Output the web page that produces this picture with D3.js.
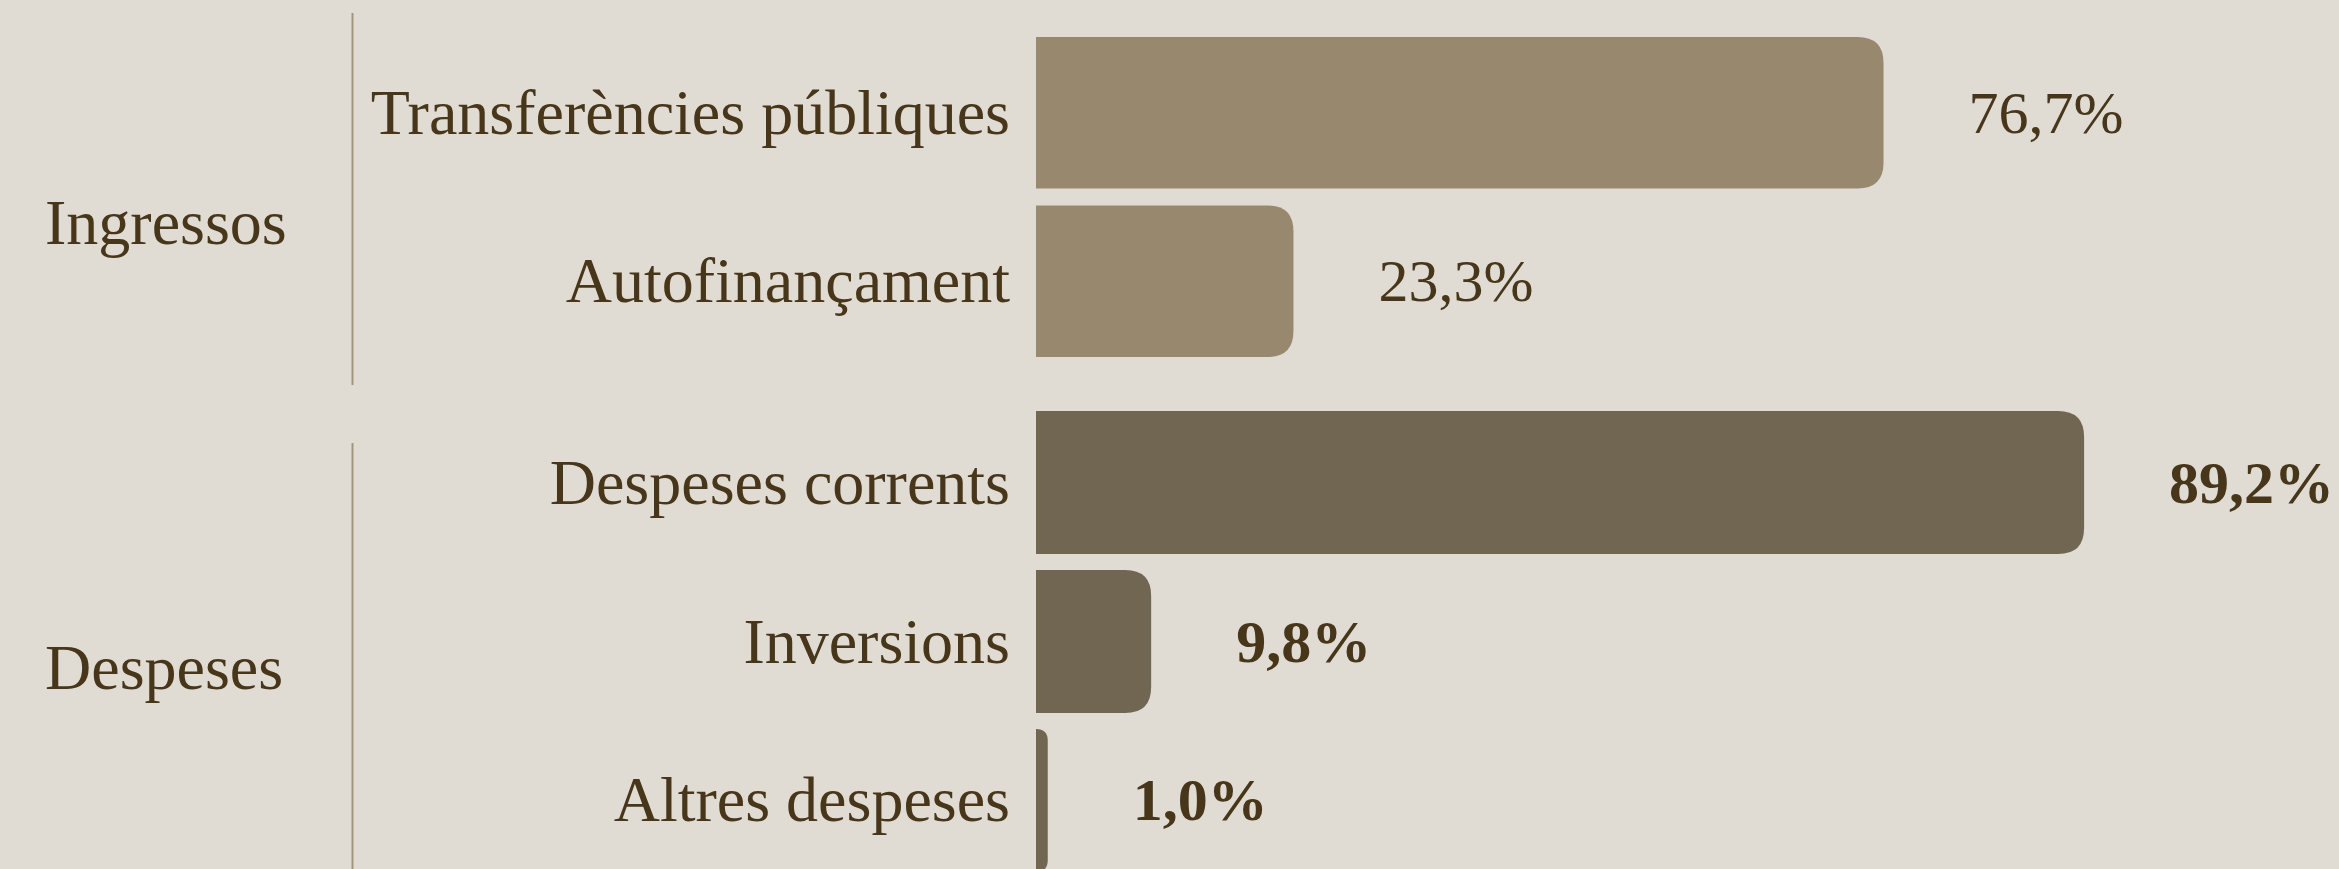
<!DOCTYPE html>
<html>
<head>
<meta charset="utf-8">
<script src="https://cdn.jsdelivr.net/npm/d3@7"></script>
<style>
  html, body { margin: 0; padding: 0; background: #e0dcd4; }
  svg { display: block; }
  text { font-family: "Liberation Serif", serif; fill: #47361a; }
</style>
</head>
<body>
<script>
// data
var groups = ["Ingressos", "Despeses"];
var ingressosCats = ["Transferències públiques", "Autofinançament"];
var ingressosVals = [76.7, 23.3];
var despesesCats = ["Despeses corrents", "Inversions", "Altres despeses"];
var despesesVals = [89.2, 9.8, 1.0];

var svgWidth = 2339;
var svgHeight = 869;

var svg = d3.select("body")
  .append("svg")
  .attr("width", svgWidth)
  .attr("height", svgHeight);

svg.append("rect")
  .attr("width", svgWidth)
  .attr("height", svgHeight)
  .attr("fill", "#e0dcd4");

// layout for each panel
var panels = [
  { name: groups[0], cats: ingressosCats, vals: ingressosVals,
    band: [37, 357], width: 1105, line: [13, 385], color: "#98896e", bold: false },
  { name: groups[1], cats: despesesCats, vals: despesesVals,
    band: [411, 872], width: 1175, line: [443, 869], color: "#716652", bold: true }
];

var barX = 1036;
var labelX = 1010;
var sepX = 352.5;
var radius = 26;

function barPath(x0, y, w, h) {
  var r = Math.min(radius, w, h / 2);
  return "M" + x0 + "," + y +
    "H" + (x0 + w - r) +
    "Q" + (x0 + w) + "," + y + " " + (x0 + w) + "," + (y + r) +
    "V" + (y + h - r) +
    "Q" + (x0 + w) + "," + (y + h) + " " + (x0 + w - r) + "," + (y + h) +
    "H" + x0 + "Z";
}

panels.forEach(function(p) {
  var data = p.cats.map(function(c, i) { return { cat: c, val: p.vals[i] }; });

  var y = d3.scaleBand()
    .domain(p.cats)
    .range(p.band)
    .paddingInner(0.1)
    .paddingOuter(0);

  var x = d3.scaleLinear()
    .domain([0, 100])
    .range([barX, barX + p.width]);

  var g = svg.append("g");

  // separator line
  g.append("line")
    .attr("x1", sepX).attr("x2", sepX)
    .attr("y1", p.line[0]).attr("y2", p.line[1])
    .attr("stroke", "#a3957a")
    .attr("stroke-width", 2);

  // group label
  var mid = (p.band[0] + p.band[1]) / 2;
  g.append("text")
    .attr("x", 45)
    .attr("y", mid + 47)
    .attr("font-size", 64)
    .text(p.name);

  // bars
  g.selectAll(".bar")
    .data(data)
    .enter()
    .append("path")
    .attr("class", "bar")
    .attr("fill", p.color)
    .attr("d", function(d) {
      return barPath(x(0), y(d.cat), x(d.val) - x(0), y.bandwidth());
    });

  // category labels
  g.selectAll(".cat")
    .data(data)
    .enter()
    .append("text")
    .attr("class", "cat")
    .attr("x", labelX)
    .attr("y", function(d) { return y(d.cat) + y.bandwidth() / 2 + 21; })
    .attr("text-anchor", "end")
    .attr("font-size", 64)
    .text(function(d) { return d.cat; });

  // value labels
  g.selectAll(".val")
    .data(data)
    .enter()
    .append("text")
    .attr("class", "val")
    .attr("x", function(d) { return x(d.val) + 85; })
    .attr("y", function(d) { return y(d.cat) + y.bandwidth() / 2 + 20; })
    .attr("font-size", 60)
    .attr("font-weight", p.bold ? "bold" : "normal")
    .text(function(d) { return d3.format(".1f")(d.val).replace(".", ",") + "%"; });
});
</script>
</body>
</html>
